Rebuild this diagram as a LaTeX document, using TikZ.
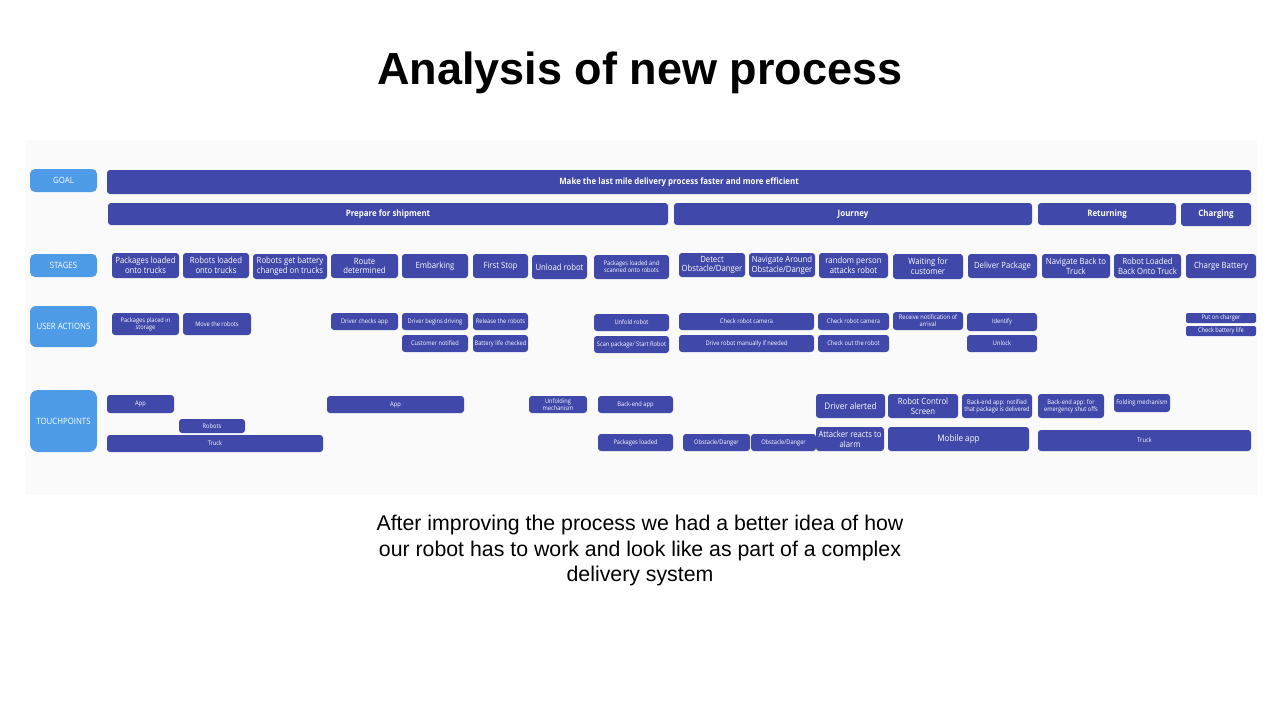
\documentclass[tikz,border=0pt]{standalone}
\usepackage{fontspec}
\setmainfont{Liberation Sans}
\newfontfamily\bxfont[FakeStretch=0.9]{Open Sans}
\definecolor{boxblue}{RGB}{64,72,170}
\definecolor{labblue}{RGB}{78,156,232}
\definecolor{bggray}{RGB}{250,250,250}
\newcommand\Bx[7][]{\pgfmathsetmacro\bxw{#5-#3}\pgfmathsetmacro\bxh{#6-#4}%
\node[box,minimum width=\bxw pt,minimum height=\bxh pt,#1] (#2) at ({(#3+#5)/2},{(#4+#6)/2}) {#7};}
\begin{document}
\begin{tikzpicture}[x=1pt,y=-1pt,
 box/.style={rounded corners=3pt, fill=boxblue, text=white, align=center, inner sep=0.5pt, outer sep=0pt, font=\bxfont\fontsize{8.6}{9.8}\selectfont},
 lab/.style={box, fill=labblue, rounded corners=5pt, font=\bxfont\fontsize{8.7}{9.5}\selectfont},
 sm/.style={font=\bxfont\fontsize{6.3}{7.2}\selectfont},
 lg/.style={font=\bxfont\fontsize{9}{10.2}\selectfont},
 hd/.style={font=\bxfont\bfseries\fontsize{8.8}{9.5}\selectfont},
]
\useasboundingbox (0,0) rectangle (1280,720);
\fill[white] (0,0) rectangle (1280,720);
\fill[bggray] (25,140) rectangle (1257,495);
\node[font=\bfseries\fontsize{45}{50}\selectfont, anchor=base] (title) at (640,84) {Analysis of new process};
\node[font=\fontsize{21.3}{25.5}\selectfont, align=center, anchor=north, inner sep=0pt] (caption) at (640,515) {After improving the process we had a better idea of how\\our robot has to work and look like as part of a complex\\delivery system};
% row labels
\Bx[lab]{goal}{30}{169}{97}{192}{GOAL}
\Bx[lab]{stages}{30}{254}{97}{277}{STAGES}
\Bx[lab,rounded corners=6pt]{useract}{30}{306}{97}{347}{USER ACTIONS}
\Bx[lab,rounded corners=8pt]{touch}{30}{390}{97}{452}{TOUCHPOINTS}
% goal and phases
\Bx[hd]{goalbar}{107}{170}{1251}{194}{Make the last mile delivery process faster and more efficient}
\Bx[hd]{ph1}{108}{203}{668}{225}{Prepare for shipment}
\Bx[hd]{ph2}{674}{203}{1032}{225}{Journey}
\Bx[hd]{ph3}{1038}{203}{1176}{225}{Returning}
\Bx[hd]{ph4}{1181}{203}{1251}{226}{Charging}
% stages
\Bx{s1}{112}{253}{179}{278}{Packages loaded\\onto trucks}
\Bx{s2}{183}{253}{249}{278}{Robots loaded\\onto trucks}
\Bx{s3}{253}{254}{327}{279}{Robots get battery\\changed on trucks}
\Bx{s4}{331}{254}{398}{278}{Route\\determined}
\Bx{s5}{402}{254}{468}{278}{Embarking}
\Bx{s6}{473}{254}{528}{278}{First Stop}
\Bx{s7}{532}{255}{587}{279}{Unload robot}
\Bx[sm]{s8}{594}{255}{669}{279}{Packages loaded and\\scanned onto robots}
\Bx{s9}{679}{253}{745}{277}{Detect\\Obstacle/Danger}
\Bx{s10}{749}{253}{815}{277}{Navigate Around\\Obstacle/Danger}
\Bx{s11}{819}{253}{888}{278}{random person\\attacks robot}
\Bx{s12}{893}{254}{963}{279}{Waiting for\\customer}
\Bx{s13}{968}{254}{1037}{278}{Deliver Package}
\Bx{s14}{1042}{254}{1110}{278}{Navigate Back to\\Truck}
\Bx{s15}{1114}{254}{1181}{278}{Robot Loaded\\Back Onto Truck}
\Bx{s16}{1186}{254}{1256}{278}{Charge Battery}
% user actions
\Bx[sm]{u1}{112}{313}{179}{335}{Packages placed in\\storage}
\Bx[sm]{u2}{183}{313}{251}{335}{Move the robots}
\Bx[sm]{u3}{331}{313}{398}{330}{Driver checks app}
\Bx[sm]{u4}{402}{313}{468}{330}{Driver begins driving}
\Bx[sm]{u5}{473}{313}{528}{330}{Release the robots}
\Bx[sm]{u6}{402}{335}{468}{352}{Customer notified}
\Bx[sm]{u7}{473}{335}{528}{352}{Battery life checked}
\Bx[sm]{u8}{594}{314}{669}{331}{Unfold robot}
\Bx[sm]{u9}{594}{336}{669}{353}{Scan package/ Start Robot}
\Bx[sm]{u10}{679}{313}{814}{330}{Check robot camera}
\Bx[sm]{u11}{679}{335}{814}{352}{Drive robot manually if needed}
\Bx[sm]{u12}{818}{313}{889}{330}{Check robot camera}
\Bx[sm]{u13}{818}{335}{889}{352}{Check out the robot}
\Bx[sm]{u14}{893}{312}{963}{330}{Receive notification of\\arrival}
\Bx[sm]{u15}{967}{313}{1037}{331}{Identify}
\Bx[sm]{u16}{967}{335}{1037}{352}{Unlock}
\Bx[sm,rounded corners=2pt]{u17}{1186}{313}{1256}{323}{Put on charger}
\Bx[sm,rounded corners=2pt]{u18}{1186}{326}{1256}{336}{Check battery life}
% touchpoints
\Bx[sm]{t1}{107}{395}{174}{413}{App}
\Bx[sm]{t2}{179}{419}{245}{433}{Robots}
\Bx[sm]{t3}{107}{435}{323}{452}{Truck}
\Bx[sm]{t4}{327}{396}{464}{413}{App}
\Bx[sm]{t5}{529}{396}{587}{413}{Unfolding\\mechanism}
\Bx[sm]{t6}{598}{396}{673}{413}{Back-end app}
\Bx[sm]{t7}{598}{434}{673}{451}{Packages loaded}
\Bx[sm]{t8}{683}{434}{750}{451}{Obstacle/Danger}
\Bx[sm]{t9}{751}{434}{816}{451}{Obstacle/Danger}
\Bx[lg]{t10}{816}{394}{885}{418}{Driver alerted}
\Bx{t11}{816}{427}{884}{451}{Attacker reacts to\\alarm}
\Bx{t12}{888}{394}{958}{418}{Robot Control\\Screen}
\Bx[sm]{t13}{962}{394}{1032}{418}{Back-end app: notified\\that package is delivered}
\Bx[lg]{t14}{888}{427}{1029}{451}{Mobile app}
\Bx[sm]{t15}{1038}{394}{1104}{418}{Back-end app: for\\emergency shut offs}
\Bx[sm]{t16}{1114}{394}{1170}{412}{Folding mechanism}
\Bx[sm]{t17}{1038}{430}{1251}{451}{Truck}
\end{tikzpicture}
\end{document}
